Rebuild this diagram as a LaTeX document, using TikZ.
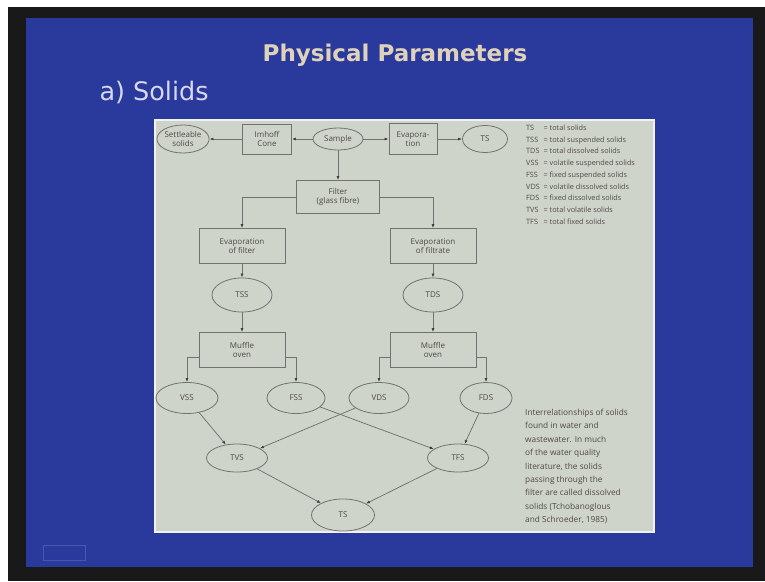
\documentclass[tikz,border=0pt]{standalone}
\usepackage{fontspec}
\setmainfont{Open Sans}
\newfontfamily\slidefont{DejaVu Sans}
\usepackage{xcolor}
\usetikzlibrary{arrows.meta,positioning,shapes.geometric,calc}
\definecolor{slideblue}{HTML}{2A399C}
\definecolor{panelgray}{HTML}{CFD4CA}
\definecolor{linegray}{HTML}{727272}
\definecolor{textgray}{HTML}{504848}
\definecolor{titlebeige}{HTML}{DED2BA}
\definecolor{subwhite}{HTML}{D6D8EC}

\begin{document}
\begin{tikzpicture}[x=1pt, y=-1pt,
		box/.style={draw=linegray, line width=0.8pt, minimum width=86pt, minimum height=35pt,
				inner sep=1pt, align=center, font=\fontsize{8}{9.5}\selectfont, text=textgray},
		oval/.style={ellipse, draw=linegray, line width=0.8pt, minimum width=60pt, minimum height=31pt,
				inner sep=0pt, align=center, font=\fontsize{8}{9.5}\selectfont, text=textgray},
		wire/.style={-{Latex[length=4pt, width=3pt, color=black!75]}, line width=0.75pt, draw=linegray}]

		% ── slide frame ──
		\useasboundingbox (0,0) rectangle (765,581);
		\fill[white] (0,0) rectangle (765,581);
		\fill[black!90] (8,7) rectangle (765,581);
		\fill[slideblue] (26,18) rectangle (753,567);
		\draw[slideblue!70!white, opacity=0.5] (43,545) rectangle (85,560);
		\fill[panelgray, draw=white!70!panelgray, line width=1.5pt] (155,120) rectangle (654,532);

		% ── headings ──
		\node[font=\slidefont\bfseries\fontsize{23}{26}\selectfont, text=titlebeige, anchor=base] (title) at (395,61) {Physical Parameters};
		\node[font=\slidefont\fontsize{25.5}{28}\selectfont, text=subwhite, anchor=base west] (subtitle) at (96,100) {a) Solids};

		% ── top row ──
		\node[oval, minimum width=52pt, minimum height=28pt] (settle) at (183,139) {Settleable\\solids};
		\node[box, minimum width=49pt, minimum height=30pt] (imhoff) at (267,139) {Imhoff\\Cone};
		\node[oval, minimum width=50pt, minimum height=22pt] (sample) at (338,139) {Sample};
		\node[box, minimum width=48pt, minimum height=31pt] (evap) at (413,139) {Evapora-\\tion};
		\node[oval, minimum width=45pt, minimum height=27pt] (tstop) at (485,139) {TS};

		% ── filtration ──
		\node[box, minimum width=83pt, minimum height=33pt] (filter) at (338,197) {Filter\\(glass fibre)};
		\node[box] (evfilter) at (242,246) {Evaporation\\of filter};
		\node[box] (evfiltrate) at (433,246) {Evaporation\\of filtrate};
		\node[oval, minimum height=34pt] (tss) at (242,295) {TSS};
		\node[oval, minimum height=34pt] (tds) at (433,295) {TDS};
		\node[box] (muffleL) at (242,350) {Muffle\\oven};
		\node[box] (muffleR) at (433,350) {Muffle\\oven};

		% ── volatile / fixed ──
		\node[oval, minimum width=62pt] (vss) at (187,398) {VSS};
		\node[oval, minimum width=58pt] (fss) at (296,398) {FSS};
		\node[oval] (vds) at (379,398) {VDS};
		\node[oval, minimum width=52pt] (fds) at (486,398) {FDS};
		\node[oval, minimum width=61pt, minimum height=28pt] (tvs) at (237,458) {TVS};
		\node[oval, minimum width=61pt, minimum height=28pt] (tfs) at (458,458) {TFS};
		\node[oval, minimum width=63pt, minimum height=32pt] (tsbot) at (343,515) {TS};

		% ── legend and caption ──
		\node[anchor=north west, inner sep=0pt, text=textgray, font=\fontsize{7.3}{11.75}\selectfont] (legend) at (526,122) {%
			\begin{tabular}{@{}l@{\ \ }l@{}}
				TS  & = total solids\\
				TSS & = total suspended solids\\
				TDS & = total dissolved solids\\
				VSS & = volatile suspended solids\\
				FSS & = fixed suspended solids\\
				VDS & = volatile dissolved solids\\
				FDS & = fixed dissolved solids\\
				TVS & = total volatile solids\\
				TFS & = total fixed solids
			\end{tabular}};
		\node[anchor=north west, inner sep=0pt, align=left, text=textgray, font=\fontsize{8.3}{13.4}\selectfont] (caption) at (525,409)
			{Interrelationships of solids\\found in water and\\wastewater. In much\\of the water quality\\literature, the solids\\passing through the\\filter are called dissolved\\solids (Tchobanoglous\\and Schroeder, 1985)};

		% ── wires ──
		\draw[wire] (sample) -- (imhoff);
		\draw[wire] (imhoff) -- (settle);
		\draw[wire] (sample) -- (evap);
		\draw[wire] (evap) -- (tstop);
		\draw[wire] (sample) -- (filter);
		\draw[wire] (filter.west) -| (evfilter.north);
		\draw[wire] (filter.east) -| (evfiltrate.north);
		\draw[wire] (evfilter) -- (tss);
		\draw[wire] (evfiltrate) -- (tds);
		\draw[wire] (tss) -- (muffleL);
		\draw[wire] (tds) -- (muffleR);
		\draw[wire] ([yshift=-7pt]muffleL.west) -| (vss.north);
		\draw[wire] ([yshift=-7pt]muffleL.east) -| (fss.north);
		\draw[wire] ([yshift=-7pt]muffleR.west) -| (vds.north);
		\draw[wire] ([yshift=-7pt]muffleR.east) -| (fds.north);
		\draw[wire] (vss) -- (tvs);
		\draw[wire] (vds) -- (tvs);
		\draw[wire] (fss) -- (tfs);
		\draw[wire] (fds) -- (tfs);
		\draw[wire] (tvs) -- (tsbot);
		\draw[wire] (tfs) -- (tsbot);

	\end{tikzpicture}
\end{document}
